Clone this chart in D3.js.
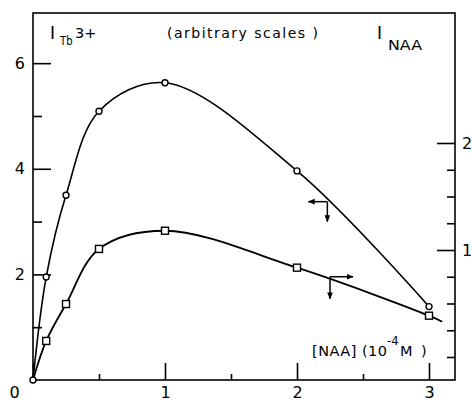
<!DOCTYPE html>
<html><head><meta charset="utf-8">
<script src="https://cdn.jsdelivr.net/npm/d3@7"></script>
<style>
html,body{margin:0;padding:0;background:#fff;}
svg{display:block;}
text{font-family:"DejaVu Sans",sans-serif;fill:#000;}
</style></head>
<body>
<script>
// Data
const concX = [0, 0.1, 0.25, 0.5, 1, 2, 3];            // [NAA] (10^-4 M)
const tbValues = [0, 1.95, 3.50, 5.09, 5.63, 3.96, 1.39]; // I_Tb3+ (left scale)
const naaX = [0, 0.1, 0.25, 0.5, 1, 2, 3, 3.1];
const naaValues = [-0.215, 0.15, 0.495, 1.01, 1.18, 0.835, 0.386, 0.33]; // I_NAA (right scale)
const naaMarked = [1, 2, 3, 4, 5, 6];                    // indices with square markers
const xMajor = [0, 1, 2, 3];
const xMinor = [0.5, 1.5, 2.5];
const leftMajor = [0, 2, 4, 6];
const leftMinor = [1, 3, 5];
const rightMajor = [1, 2];
const rightMinor = [0, 0.25, 0.5, 0.75, 1.25, 1.5, 1.75];
const tbArrow = [2.23, 3.377];
const naaArrow = [2.25, 0.75];

const W = 472, H = 403;
const svg = d3.select("body").append("svg").attr("width", W).attr("height", H);

const x = d3.scaleLinear().domain([0, 3.2]).range([33, 455.4]);
const yL = d3.scaleLinear().domain([0, 6.95]).range([380, 13]);
const yR = d3.scaleLinear().domain([-0.215, 3.215]).range([380, 13]);

const defs = svg.append("defs");
defs.append("marker").attr("id", "ah").attr("viewBox", "0 0 10 10")
  .attr("refX", 9).attr("refY", 5).attr("markerWidth", 7).attr("markerHeight", 7)
  .attr("markerUnits", "userSpaceOnUse").attr("orient", "auto")
  .append("path").attr("d", "M0,1 L10,5 L0,9 Z").attr("fill", "#000");

// Frame
svg.append("rect").attr("x", x(0)).attr("y", 13).attr("width", 455 - x(0)).attr("height", 380 - 13)
  .attr("fill", "none").attr("stroke", "#000").attr("stroke-width", 1.6);

function styleAxis(g) {
  g.select(".domain").remove();
  g.selectAll(".tick line").attr("stroke", "#000").attr("stroke-width", 1.6);
  g.selectAll("text").attr("font-size", 16).attr("fill", "#000");
}

// Bottom axis
svg.append("g").attr("transform", "translate(0,380)")
  .call(d3.axisBottom(x).tickValues(xMajor).tickSizeInner(-17).tickSizeOuter(0).tickPadding(7).tickFormat(d3.format("d")))
  .call(styleAxis)
  .call(g => g.selectAll(".tick").filter(d => d === 0).select("text").attr("dx", -19));
svg.append("g").attr("transform", "translate(0,380)")
  .call(d3.axisBottom(x).tickValues(xMinor).tickSizeInner(-6).tickSizeOuter(0).tickFormat(""))
  .call(styleAxis);

// Left axis
svg.append("g").attr("transform", `translate(${x(0)},0)`)
  .call(d3.axisLeft(yL).tickValues(leftMajor.filter(d => d > 0)).tickSizeInner(-18).tickSizeOuter(0).tickPadding(8).tickFormat(d3.format("d")))
  .call(styleAxis);
svg.append("g").attr("transform", `translate(${x(0)},0)`)
  .call(d3.axisLeft(yL).tickValues(leftMinor).tickSizeInner(-9).tickSizeOuter(0).tickFormat(""))
  .call(styleAxis);

// Right axis
svg.append("g").attr("transform", "translate(455,0)")
  .call(d3.axisRight(yR).tickValues(rightMajor).tickSizeInner(-18).tickSizeOuter(0).tickPadding(7).tickFormat(d3.format("d")))
  .call(styleAxis);
svg.append("g").attr("transform", "translate(455,0)")
  .call(d3.axisRight(yR).tickValues(rightMinor).tickSizeInner(-8).tickSizeOuter(0).tickFormat(""))
  .call(styleAxis);

// Curves
const tbData = concX.map((c, i) => [c, tbValues[i]]);
const naaData = naaX.map((c, i) => [c, naaValues[i]]);
const lineL = d3.line().x(d => x(d[0])).y(d => yL(d[1])).curve(d3.curveCatmullRom.alpha(0.5));
const lineR = d3.line().x(d => x(d[0])).y(d => yR(d[1])).curve(d3.curveCatmullRom.alpha(0.5));
svg.append("path").attr("d", lineL(tbData)).attr("fill", "none").attr("stroke", "#000").attr("stroke-width", 1.6);
svg.append("path").attr("d", lineR(naaData)).attr("fill", "none").attr("stroke", "#000").attr("stroke-width", 1.8);

// Markers
svg.selectAll("circle.tb").data(tbData).enter().append("circle")
  .attr("cx", d => x(d[0])).attr("cy", d => yL(d[1])).attr("r", 3)
  .attr("fill", "#fff").attr("stroke", "#000").attr("stroke-width", 1.4);
svg.selectAll("rect.naa").data(naaMarked.map(i => naaData[i])).enter().append("rect")
  .attr("x", d => x(d[0]) - 3.5).attr("y", d => yR(d[1]) - 3.5).attr("width", 7).attr("height", 7)
  .attr("fill", "#fff").attr("stroke", "#000").attr("stroke-width", 1.4);

// Arrows
function arrow(px, py, dx, dy) {
  svg.append("line").attr("x1", px).attr("y1", py).attr("x2", px + dx).attr("y2", py + dy)
    .attr("stroke", "#000").attr("stroke-width", 1.5).attr("marker-end", "url(#ah)");
}
const ax1 = x(tbArrow[0]), ay1 = yL(tbArrow[1]);
arrow(ax1, ay1, -19, 0); arrow(ax1, ay1, 0, 20);
const ax2 = x(naaArrow[0]), ay2 = yR(naaArrow[1]);
arrow(ax2, ay2, 23, 0); arrow(ax2, ay2, 0, 22);

// Labels
svg.append("text").attr("x", 50).attr("y", 39).attr("font-family", "DejaVu Serif").attr("font-size", 17).text("I");
svg.append("text").attr("x", 60).attr("y", 45).attr("font-size", 13)
  .attr("textLength", 12.5).attr("lengthAdjust", "spacingAndGlyphs").text("Tb");
svg.append("text").attr("x", 75).attr("y", 38).attr("font-size", 14.5).text("3+");

svg.append("text").attr("x", 167).attr("y", 38).attr("font-size", 14)
  .attr("textLength", 151).attr("lengthAdjust", "spacing").text("(arbitrary scales )");

svg.append("text").attr("x", 377).attr("y", 39).attr("font-family", "DejaVu Serif").attr("font-size", 17).text("I");
svg.append("text").attr("x", 388).attr("y", 50).attr("font-size", 14.5)
  .attr("textLength", 34).attr("lengthAdjust", "spacingAndGlyphs").text("NAA");

svg.append("text").attr("x", 312).attr("y", 356).attr("font-size", 14.5)
  .attr("textLength", 75).attr("lengthAdjust", "spacing").text("[NAA] (10");
svg.append("text").attr("x", 387).attr("y", 345).attr("font-size", 11.5).text("-4");
svg.append("text").attr("x", 400).attr("y", 356).attr("font-size", 14.5)
  .attr("letter-spacing", 2).text("M )");
</script>
</body></html>
